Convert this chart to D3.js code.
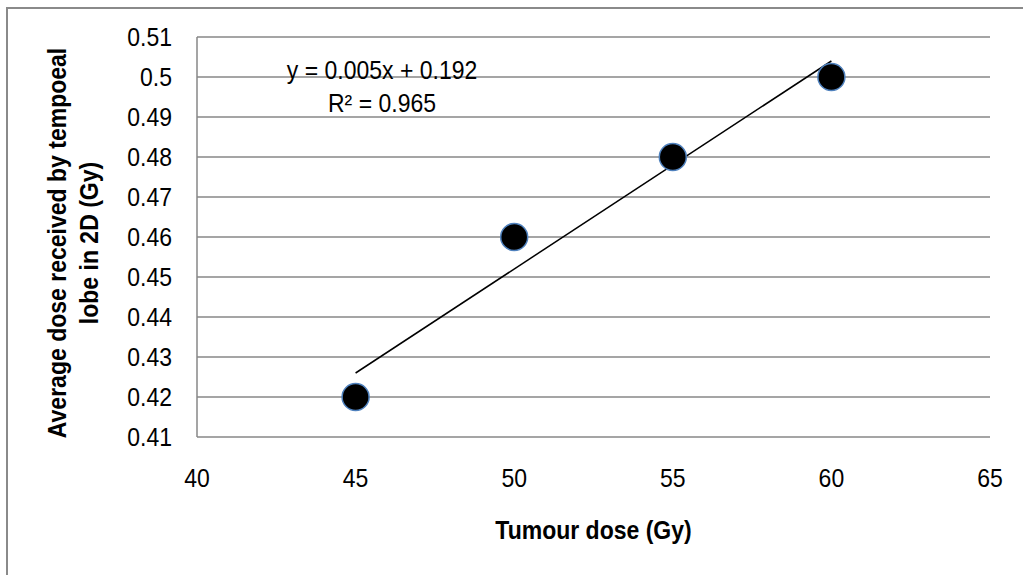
<!DOCTYPE html>
<html>
<head>
<meta charset="UTF-8">
<style>
  body { margin: 0; background: #fff; }
  svg text { font-family: "Liberation Sans", Arial, sans-serif; fill: #000; }
</style>
</head>
<body>
<svg></svg>
<script src="https://d3js.org/d3.v7.min.js"></script>
<script>

// data
let tumourDose = [45, 50, 55, 60];
let avgDose = [0.42, 0.46, 0.48, 0.50];
let xTicks = [40, 45, 50, 55, 60, 65];
let yTicks = [0.41, 0.42, 0.43, 0.44, 0.45, 0.46, 0.47, 0.48, 0.49, 0.5, 0.51];
let equationText = ["y = 0.005x + 0.192", "R\u00B2 = 0.965"];

let width = 1023, height = 575;

// text in the picture is a bit narrower than Arial, so squeeze it sideways
let sx = 0.92, sxBold = 0.885;

let svg = d3.select("svg")
    .attr("width", width)
    .attr("height", height);

// outer chart border (only top and left visible)
svg.append("path")
    .attr("d", "M7,575 L7,8 L1023,8")
    .attr("fill", "none")
    .attr("stroke", "#8a8a8a")
    .attr("stroke-width", 2);

let x = d3.scaleLinear().domain([40, 65]).range([197, 990]);
let y = d3.scaleLinear().domain([0.41, 0.51]).range([437, 37]);

// gridlines
svg.append("g")
    .selectAll("line")
    .data(yTicks)
    .enter()
    .append("line")
    .attr("x1", x(40))
    .attr("x2", x(65))
    .attr("y1", d => y(d))
    .attr("y2", d => y(d))
    .attr("stroke", "#878787")
    .attr("stroke-width", 1.5);

// left axis line
svg.append("line")
    .attr("x1", x(40)).attr("x2", x(40))
    .attr("y1", y(0.51)).attr("y2", y(0.41))
    .attr("stroke", "#878787")
    .attr("stroke-width", 1.5);

// y tick labels
svg.append("g")
    .selectAll("text")
    .data(yTicks)
    .enter()
    .append("text")
    .attr("transform", d => "translate(172," + (y(d) + 8.5) + ") scale(" + sx + ",1)")
    .attr("text-anchor", "end")
    .style("font-size", "25px")
    .text(d => d);

// x tick labels
svg.append("g")
    .selectAll("text")
    .data(xTicks)
    .enter()
    .append("text")
    .attr("transform", d => "translate(" + x(d) + ",487) scale(" + sx + ",1)")
    .attr("text-anchor", "middle")
    .style("font-size", "25px")
    .text(d => d);

// axis titles
svg.append("text")
    .attr("transform", "translate(" + (x(40) + x(65)) / 2 + ",539) scale(" + sxBold + ",1)")
    .attr("text-anchor", "middle")
    .style("font-size", "26px")
    .style("font-weight", "bold")
    .text("Tumour dose (Gy)");

let yTitle = svg.append("text")
    .attr("transform", "translate(66,243) rotate(-90) scale(" + sxBold + ",1)")
    .attr("text-anchor", "middle")
    .style("font-size", "26px")
    .style("font-weight", "bold");
yTitle.append("tspan").attr("x", 0).attr("y", 0).text("Average dose received by tempoeal");
yTitle.append("tspan").attr("x", 0).attr("y", 32).text("lobe in 2D (Gy)");

// linear trendline (least squares)
let mx = d3.mean(tumourDose), my = d3.mean(avgDose);
let sxy = d3.sum(tumourDose, (d, i) => (d - mx) * (avgDose[i] - my));
let sxx = d3.sum(tumourDose, d => (d - mx) * (d - mx));
let slope = sxy / sxx, intercept = my - slope * mx;
let xr = d3.extent(tumourDose);

svg.append("line")
    .attr("x1", x(xr[0])).attr("y1", y(slope * xr[0] + intercept))
    .attr("x2", x(xr[1])).attr("y2", y(slope * xr[1] + intercept))
    .attr("stroke", "#000")
    .attr("stroke-width", 1.5);

// points
svg.append("g")
    .selectAll("circle")
    .data(tumourDose)
    .enter()
    .append("circle")
    .attr("cx", d => x(d))
    .attr("cy", (d, i) => y(avgDose[i]))
    .attr("r", 13.5)
    .attr("fill", "#000")
    .attr("stroke", "#4f81bd")
    .attr("stroke-width", 1.5);

// equation label
svg.append("g")
    .selectAll("text")
    .data(equationText)
    .enter()
    .append("text")
    .attr("transform", (d, i) => "translate(382," + (79 + i * 33) + ") scale(" + sx + ",1)")
    .attr("text-anchor", "middle")
    .style("font-size", "25px")
    .text(d => d);

</script>
</body>
</html>
